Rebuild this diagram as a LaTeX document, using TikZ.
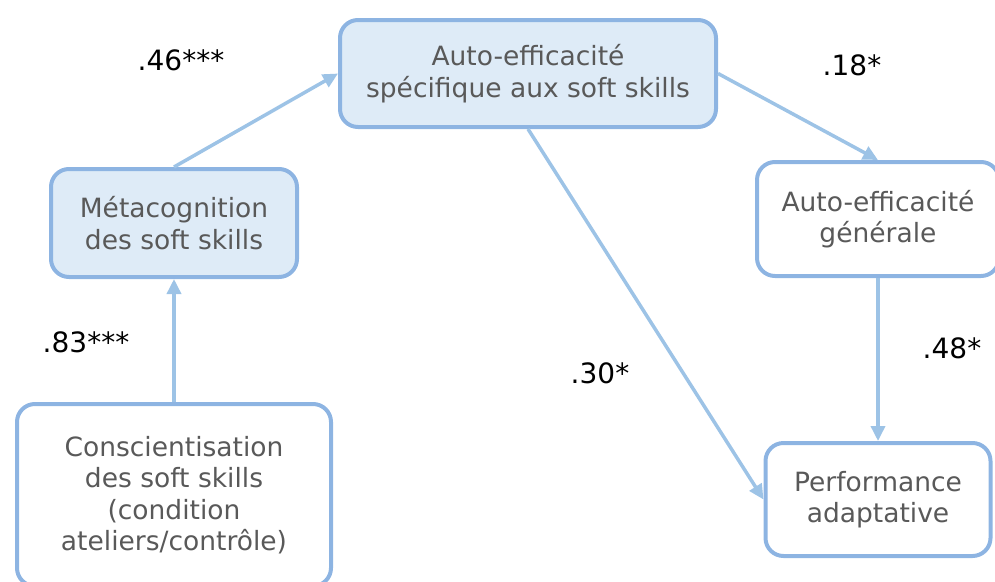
\documentclass[tikz,border=0pt]{standalone}
\usepackage{fontspec}
\setmainfont{DejaVu Sans}
\usetikzlibrary{
  arrows.meta
}
\definecolor{boxline}{HTML}{8DB4E2}
\definecolor{boxfill}{HTML}{DEEBF7}
\definecolor{linkline}{HTML}{9DC3E6}
\definecolor{boxtext}{HTML}{595959}
\tikzset{
%
  % For boxes in general.
  box/.style={
    draw=boxline,
    line width=4pt,
    rounded corners=18pt,
    align=center,
    text=boxtext,
    font=\fontsize{26.5}{31.5}\selectfont,
    inner sep=0pt},
%
  % For the shaded boxes.
  shaded box/.style={
    box,
    fill=boxfill},
%
  % For the paths between boxes.
  link/.style={
    draw=linkline,
    line width=3.5pt,
    -{Triangle[length=15pt,
               width=14pt]}},
%
  % For the path coefficients.
  coef/.style={
    font=\fontsize{28}{32}\selectfont}
}

\begin{document}
\begin{tikzpicture}[x=1pt,y=-1pt]
  \clip (0,0) rectangle (995,581);

  \node[shaded box,
        minimum width=376pt,
        minimum height=107pt] (S) at (528,73.5)
    {Auto-efficacité\\spécifique aux soft skills};
  \node[shaded box,
        minimum width=246pt,
        minimum height=108pt] (M) at (174,223)
    {Métacognition\\des soft skills};
  \node[box,
        minimum width=242pt,
        minimum height=114pt] (G) at (878,219)
    {Auto-efficacité\\générale};
  \node[box,
        minimum width=225pt,
        minimum height=113pt] (P) at (878,499.5)
    {Performance\\adaptative};
  \node[box,
        minimum width=314pt,
        minimum height=182pt] (C) at (174,495)
    {Conscientisation\\des soft skills\\(condition\\ateliers/contrôle)};

  \draw[link] (C.north) -- (M.south);
  \draw[link] (M.north) -- (S.west);
  \draw[link] (S.east) -- (G.north);
  \draw[link] (S.south) -- (P.west);
  \draw[link] (G.south) -- (P.north);

  \node[coef] (cMS) at (181,60) {.46***};
  \node[coef] (cSG) at (852,65) {.18*};
  \node[coef] (cCM) at (86,342) {.83***};
  \node[coef] (cSP) at (600,373) {.30*};
  \node[coef] (cGP) at (952,348) {.48*};
\end{tikzpicture}
\end{document}
